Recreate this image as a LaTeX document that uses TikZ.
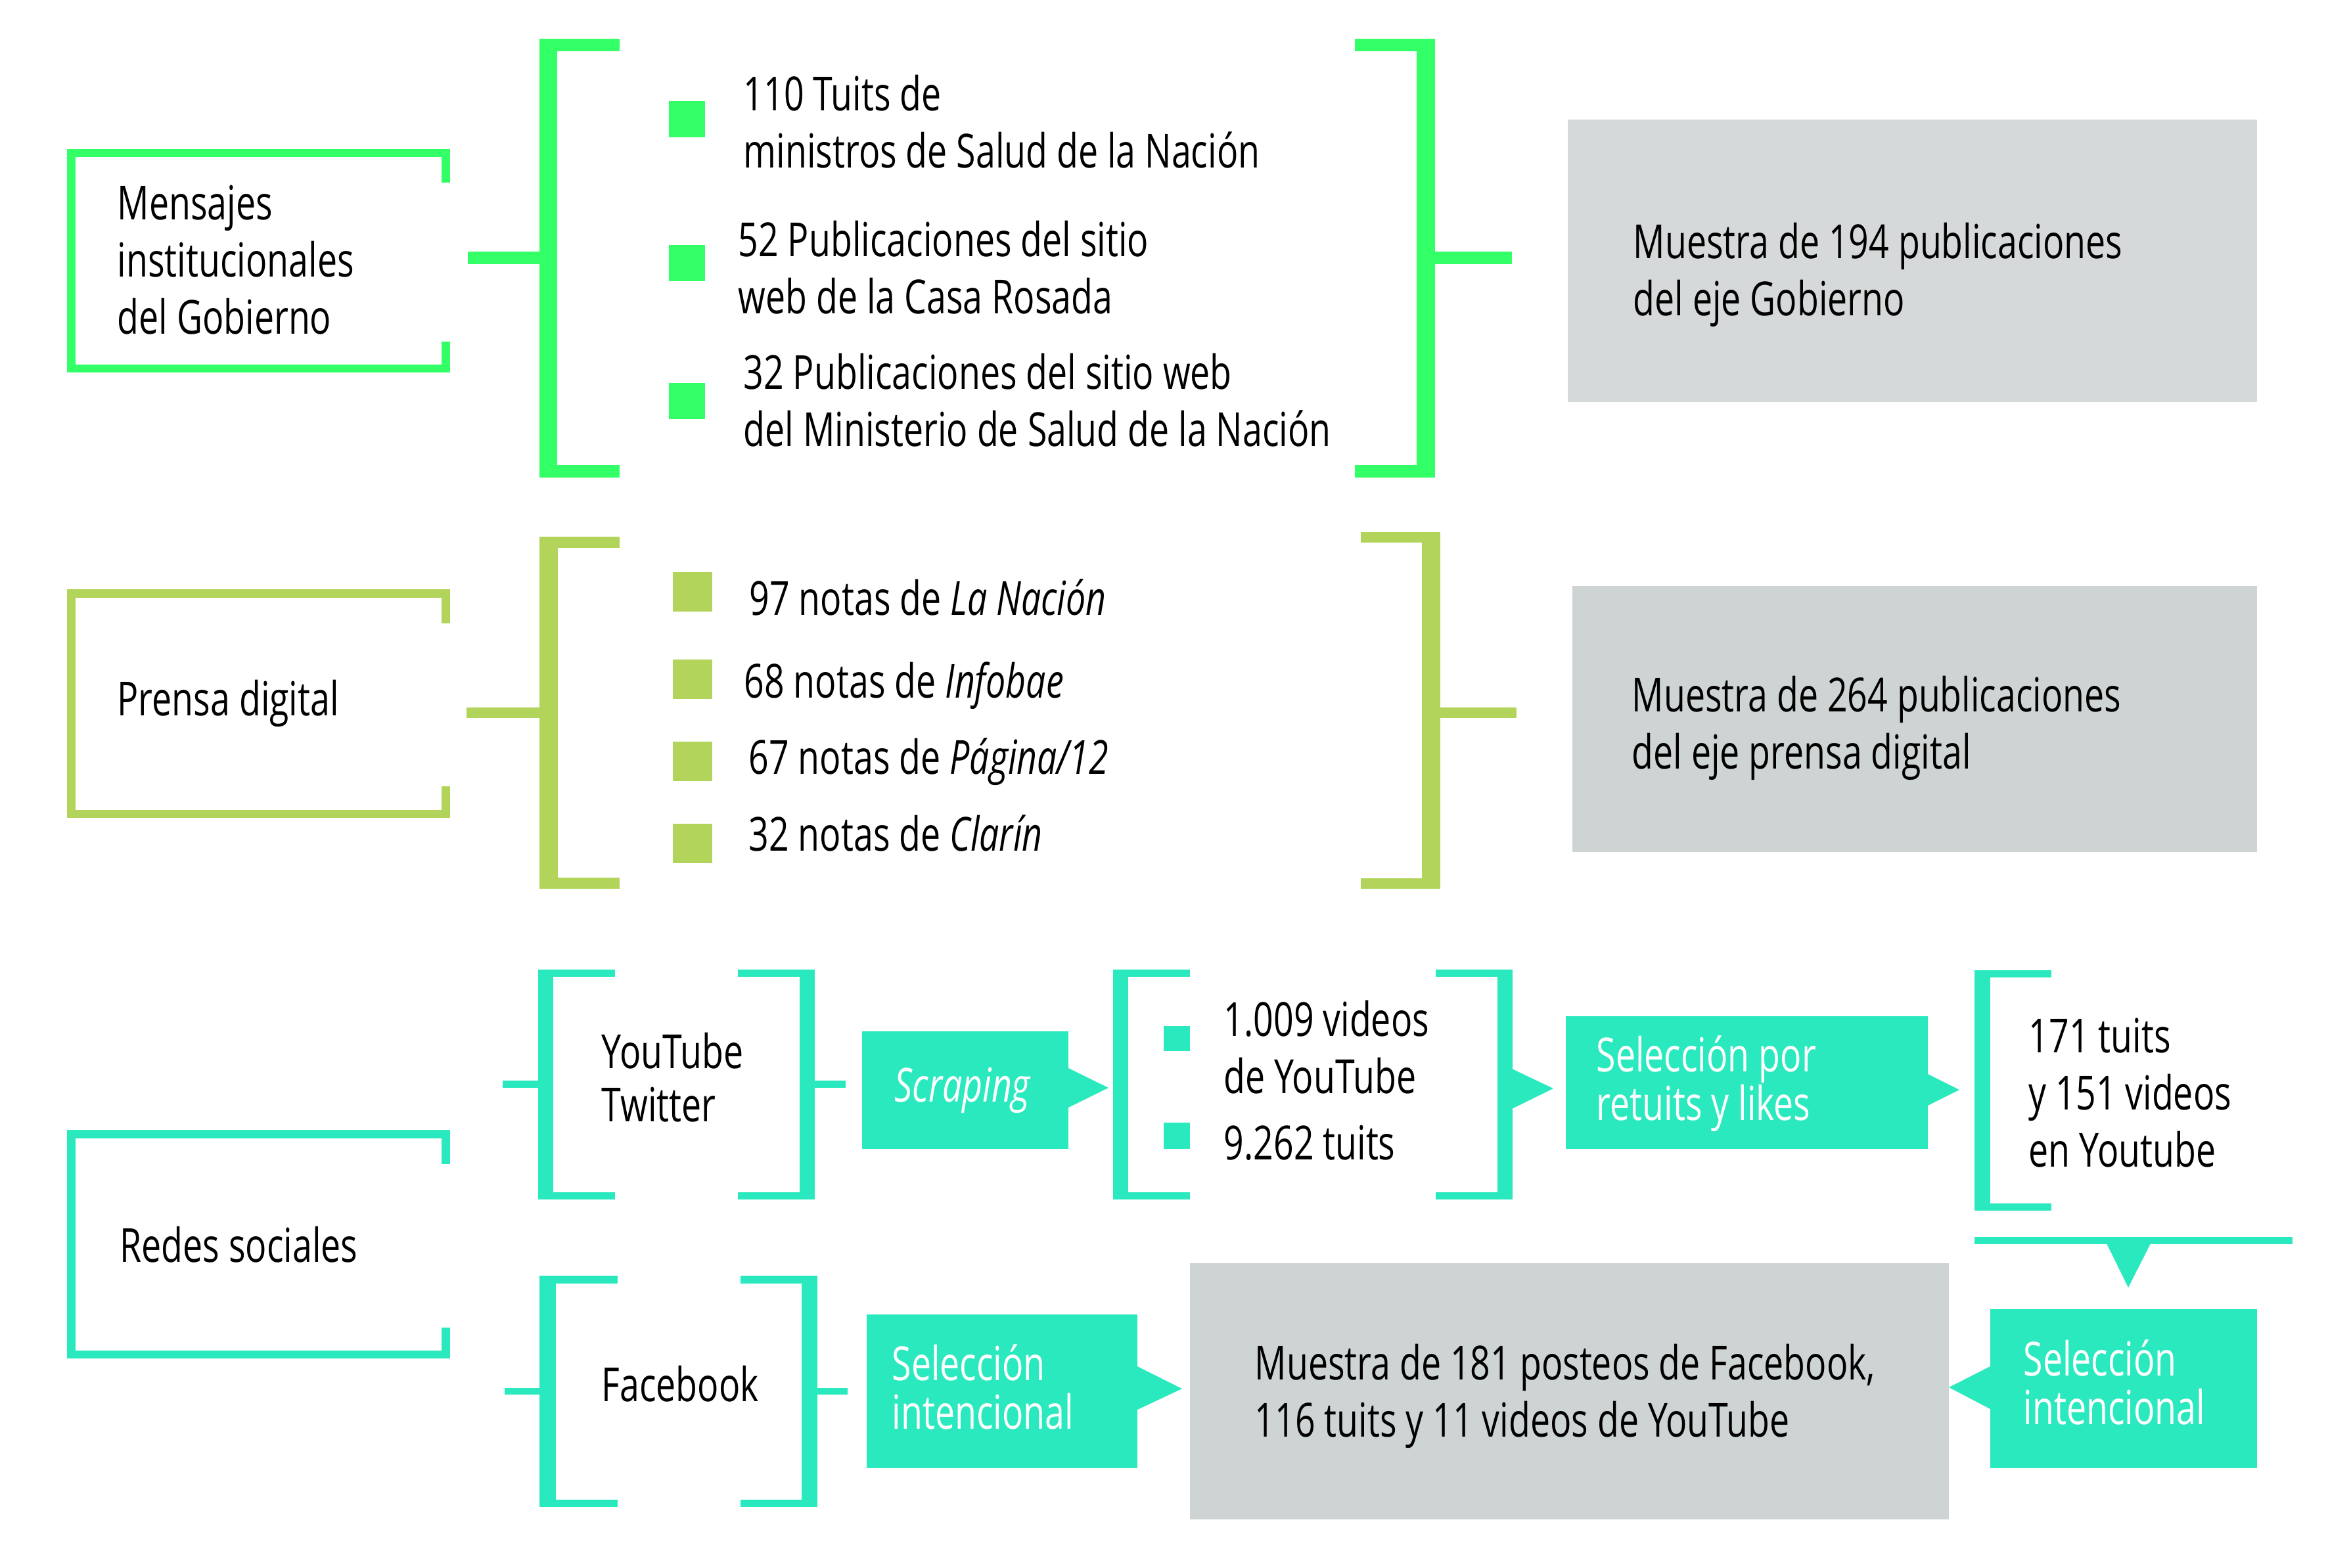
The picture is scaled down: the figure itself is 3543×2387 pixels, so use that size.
\documentclass[tikz,border=0pt]{standalone}
\usepackage{fontspec}
\setmainfont{Open Sans}[FakeStretch=0.75]
\definecolor{gA}{HTML}{33FF66}
\definecolor{gB}{HTML}{B3D45B}
\definecolor{tq}{HTML}{2BE9BF}
\definecolor{grA}{HTML}{D5D9DA}
\definecolor{grB}{HTML}{CED4D4}
\tikzset{
  txt/.style={inner sep=0pt, anchor=base west, align=left, text=black,
    font=\fontsize{20.35}{24.75}\selectfont},
  wtxt/.style={txt, text=white, font=\fontsize{20.35}{20.8}\selectfont},
  ytxt/.style={txt, font=\fontsize{20.35}{22.8}\selectfont},
  panel/.style={inner sep=0pt, anchor=north west, draw=none},
}
\begin{document}
\begin{tikzpicture}[x=0.1mm, y=-0.1mm]
\useasboundingbox (0,0) rectangle (3543,2387);

% note: multi-line text nodes are placed by the baseline of their last line

% ================= Group 1 : Gobierno =================
\fill[gA] (102,227) rectangle (115,567);
\fill[gA] (102,227) rectangle (685,239);
\fill[gA] (102,555) rectangle (685,567);
\fill[gA] (672,227) rectangle (685,278);
\fill[gA] (672,520) rectangle (685,567);
\node[txt] (mens) at (178,508) {Mensajes\\institucionales\\del Gobierno};
\fill[gA] (712,383) rectangle (821,402);
\fill[gA] (821,59) rectangle (848,727);
\fill[gA] (821,59) rectangle (943,78);
\fill[gA] (821,708) rectangle (943,727);
\fill[gA] (1018,154) rectangle (1073,209);
\fill[gA] (1018,373) rectangle (1073,428);
\fill[gA] (1018,583) rectangle (1073,638);
\node[txt] (t110) at (1131,255) {110 Tuits de\\ministros de Salud de la Nación};
\node[txt] (t52) at (1123,477) {52 Publicaciones del sitio\\web de la Casa Rosada};
\node[txt] (t32) at (1131,679) {32 Publicaciones del sitio web\\del Ministerio de Salud de la Nación};
\fill[gA] (2156,59) rectangle (2184,727);
\fill[gA] (2062,59) rectangle (2184,78);
\fill[gA] (2062,708) rectangle (2184,727);
\fill[gA] (2184,383) rectangle (2301,402);
\node[panel, fill=grA, minimum width=104.9mm, minimum height=43mm] (res1) at (2385,181) {};
\node[txt] (res1t) at (2485,480) {Muestra de 194 publicaciones\\del eje Gobierno};

% ================= Group 2 : Prensa =================
\fill[gB] (102,897) rectangle (115,1245);
\fill[gB] (102,897) rectangle (685,910);
\fill[gB] (102,1233) rectangle (685,1245);
\fill[gB] (672,897) rectangle (685,949);
\fill[gB] (672,1197) rectangle (685,1245);
\node[txt] (prensa) at (178,1089) {Prensa digital};
\fill[gB] (710,1077) rectangle (821,1093);
\fill[gB] (821,817) rectangle (849,1353);
\fill[gB] (821,817) rectangle (943,834);
\fill[gB] (821,1336) rectangle (943,1353);
\fill[gB] (1024,871) rectangle (1084,931);
\fill[gB] (1024,1004) rectangle (1084,1064);
\fill[gB] (1024,1129) rectangle (1084,1189);
\fill[gB] (1024,1254) rectangle (1084,1314);
\node[txt] (n97) at (1140,936) {97 notas de \textit{La Nación}};
\node[txt] (n68) at (1132,1062) {68 notas de \textit{Infobae}};
\node[txt] (n67) at (1139,1178) {67 notas de \textit{Página/12}};
\node[txt] (n32) at (1139,1295) {32 notas de \textit{Clarín}};
\fill[gB] (2164,810) rectangle (2192,1353);
\fill[gB] (2071,810) rectangle (2192,826);
\fill[gB] (2071,1337) rectangle (2192,1353);
\fill[gB] (2192,1077) rectangle (2308,1093);
\node[panel, fill=grB, minimum width=104.2mm, minimum height=40.5mm] (res2) at (2392,891) {};
\node[txt] (res2t) at (2483,1170) {Muestra de 264 publicaciones\\del eje prensa digital};

% ================= Group 3 : Redes =================
\fill[tq] (102,1720) rectangle (115,2068);
\fill[tq] (102,1720) rectangle (685,1733);
\fill[tq] (102,2056) rectangle (685,2068);
\fill[tq] (672,1720) rectangle (685,1772);
\fill[tq] (672,2021) rectangle (685,2068);
\node[txt] (redes) at (182,1921) {Redes sociales};

\fill[tq] (765,1645) rectangle (819,1656);
\fill[tq] (819,1476) rectangle (842,1826);
\fill[tq] (819,1476) rectangle (936,1487);
\fill[tq] (819,1815) rectangle (936,1826);
\fill[tq] (1217,1476) rectangle (1240,1826);
\fill[tq] (1123,1476) rectangle (1240,1487);
\fill[tq] (1123,1815) rectangle (1240,1826);
\fill[tq] (1240,1645) rectangle (1287,1656);
\node[ytxt] (yt) at (915,1707) {YouTube\\Twitter};

\node[panel, fill=tq, minimum width=31.4mm, minimum height=17.9mm] (scr) at (1311,1569) {};
\fill[tq] (1624,1625) -- (1687,1656) -- (1624,1687) -- cycle;
\node[wtxt] (scrt) at (1361,1677) {\textit{Scraping}};

\fill[tq] (1694,1476) rectangle (1717,1826);
\fill[tq] (1694,1476) rectangle (1811,1487);
\fill[tq] (1694,1815) rectangle (1811,1826);
\fill[tq] (2279,1476) rectangle (2302,1826);
\fill[tq] (2185,1476) rectangle (2302,1487);
\fill[tq] (2185,1815) rectangle (2302,1826);
\fill[tq] (1771,1562) rectangle (1811,1600);
\fill[tq] (1771,1709) rectangle (1811,1749);
\node[txt] (v1009) at (1862,1664) {1.009 videos\\de YouTube};
\node[txt] (t9262) at (1862,1765) {9.262 tuits};
\fill[tq] (2301,1627) -- (2364,1657) -- (2301,1688) -- cycle;

\node[panel, fill=tq, minimum width=55.1mm, minimum height=20.2mm] (selp) at (2382,1546) {};
\fill[tq] (2932,1634) -- (2982,1659) -- (2932,1684) -- cycle;
\node[wtxt] (selpt) at (2429,1705) {Selección por\\retuits y likes};

\fill[tq] (3005,1477) rectangle (3029,1843);
\fill[tq] (3005,1477) rectangle (3122,1488);
\fill[tq] (3005,1832) rectangle (3122,1843);
\node[txt] (t171) at (3087,1776) {171 tuits\\y 151 videos\\en Youtube};

\fill[tq] (3005,1883) rectangle (3489,1894);
\fill[tq] (3206,1893) -- (3273,1893) -- (3239,1960) -- cycle;

\node[panel, fill=tq, minimum width=40.6mm, minimum height=24.2mm] (selr) at (3028,1992) {};
\fill[tq] (3029,2080) -- (2966,2112) -- (3029,2145) -- cycle;
\node[wtxt] (selrt) at (3079,2168) {Selección\\intencional};

\node[panel, fill=grB, minimum width=115.5mm, minimum height=39mm] (res3) at (1810,1922) {};
\node[txt] (res3t) at (1909,2187) {Muestra de 181 posteos de Facebook,\\116 tuits y 11 videos de YouTube};

\fill[tq] (768,2113) rectangle (821,2123);
\fill[tq] (821,1942) rectangle (846,2294);
\fill[tq] (821,1942) rectangle (940,1954);
\fill[tq] (821,2283) rectangle (940,2294);
\fill[tq] (1220,1942) rectangle (1244,2294);
\fill[tq] (1127,1942) rectangle (1244,1954);
\fill[tq] (1127,2283) rectangle (1244,2294);
\fill[tq] (1244,2113) rectangle (1290,2123);
\node[txt] (fb) at (915,2133) {Facebook};

\node[panel, fill=tq, minimum width=41.2mm, minimum height=23.4mm] (sell) at (1318,2000) {};
\fill[tq] (1729,2079) -- (1799,2114) -- (1729,2147) -- cycle;
\node[wtxt] (sellt) at (1357,2175) {Selección\\intencional};
\end{tikzpicture}
\end{document}
